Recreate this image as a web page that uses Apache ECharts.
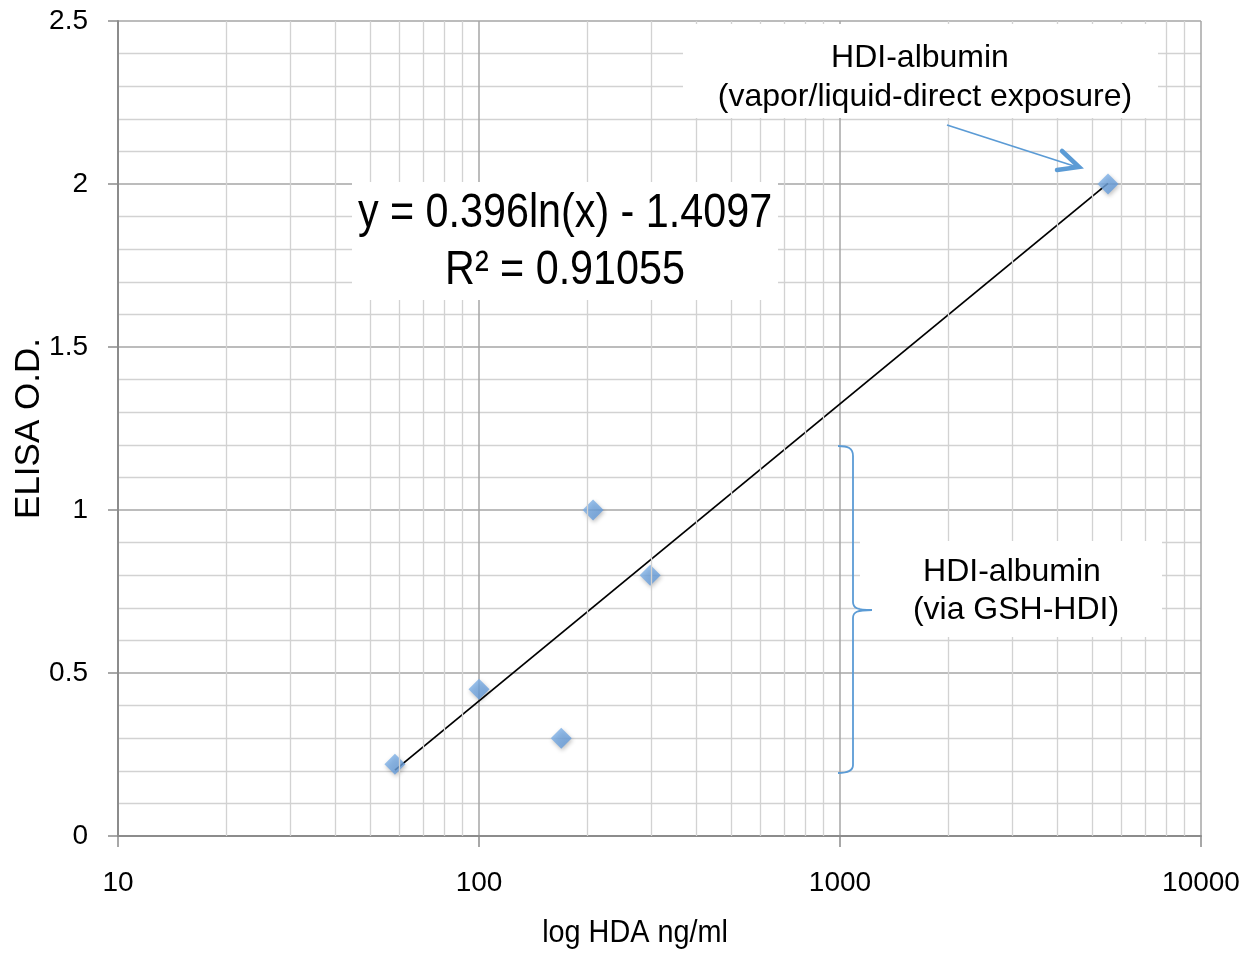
<!DOCTYPE html>
<html>
<head>
<meta charset="utf-8">
<script src="https://cdn.jsdelivr.net/npm/echarts@6/dist/echarts.min.js"></script>
<style>
html,body{margin:0;padding:0;background:#fff;}
#chart{width:1247px;height:954px;}
</style>
</head>
<body>
<div id="chart"></div>
<script>
// ---- data ----
var hdaConc = [58.5, 100, 169, 207, 298, 5525];      // x: HDA ng/ml
var elisaOD = [0.22, 0.45, 0.30, 1.00, 0.80, 2.00];   // y: ELISA O.D.
var trendX = [58.5, 5525];                           // trendline ends
var trendY = [0.202, 2.002];
var xTickLabels = ['10', '100', '1000', '10000'];
var yTickLabels = ['0', '0.5', '1', '1.5', '2', '2.5'];
var xTitle = 'log HDA ng/ml';
var yTitle = 'ELISA O.D.';
var eqLine1 = 'y = 0.396ln(x) - 1.4097';
var eqLine2 = 'R² = 0.91055';
var note1 = ['HDI-albumin', '(vapor/liquid-direct exposure)'];
var note2 = ['HDI-albumin', '(via GSH-HDI)'];

var FONT = '"Liberation Sans", Arial, sans-serif';

var points = hdaConc.map(function (x, i) { return [x, elisaOD[i]]; });
var trend = trendX.map(function (x, i) { return [x, trendY[i]]; });

// minor vertical grid (2..9 within each decade)
var minorX = [];
[10, 100, 1000].forEach(function (d) {
  for (var k = 2; k <= 9; k++) minorX.push({ xAxis: d * k });
});

var chart = echarts.init(document.getElementById('chart'), null, { renderer: 'canvas' });

var BLUE = '#5b9bd5';
function bez(x1, y1, cx1, cy1, cx2, cy2, x2, y2) {
  return { type: 'bezierCurve', z: 102,
    shape: { x1: x1, y1: y1, cpx1: cx1, cpy1: cy1, cpx2: cx2, cpy2: cy2, x2: x2, y2: y2 },
    style: { stroke: BLUE, lineWidth: 1.8, fill: null } };
}
function seg(x1, y1, x2, y2) {
  return { type: 'line', z: 102, shape: { x1: x1, y1: y1, x2: x2, y2: y2 },
    style: { stroke: BLUE, lineWidth: 1.8 } };
}

var option = {
  backgroundColor: '#ffffff',
  animation: false,
  grid: { left: 118, right: 46, top: 21, bottom: 118, containLabel: false, outerBoundsMode: 'none' },
  xAxis: {
    type: 'log', logBase: 10, min: 10, max: 10000,
    axisLine: { show: true, onZero: false, lineStyle: { color: '#8c8c8c', width: 2 } },
    axisTick: { show: true, inside: false, length: 11, lineStyle: { color: '#8c8c8c', width: 1.5 } },
    axisLabel: {
      margin: 33, fontFamily: FONT, fontSize: 28, color: '#000',
      formatter: function (v) {
        var i = Math.round(Math.log10(v)) - 1;
        return xTickLabels[i] !== undefined ? xTickLabels[i] : '';
      }
    },
    splitLine: { show: true, lineStyle: { color: '#a6a6a6', width: 1.5 } }
  },
  yAxis: {
    type: 'value', min: 0, max: 2.5, interval: 0.5,
    name: yTitle, nameLocation: 'middle', nameGap: 71, nameRotate: 90, nameMoveOverlap: false,
    nameTextStyle: { fontFamily: FONT, fontSize: 35, color: '#000' },
    axisLine: { show: true, lineStyle: { color: '#8c8c8c', width: 2 } },
    axisTick: { show: true, inside: false, length: 10, lineStyle: { color: '#8c8c8c', width: 1.5 } },
    axisLabel: {
      margin: 30, fontFamily: FONT, fontSize: 28, color: '#000',
      formatter: function (v) {
        var i = Math.round(v / 0.5);
        return yTickLabels[i] !== undefined ? yTickLabels[i] : '';
      }
    },
    splitLine: { show: true, lineStyle: { color: '#a6a6a6', width: 1.5 } },
    minorTick: { show: false, splitNumber: 5 },
    minorSplitLine: { show: true, lineStyle: { color: '#d2d2d2', width: 1.3 } }
  },
  series: [
    {
      name: 'minorgrid', type: 'line', data: [], z: 1, silent: true,
      markLine: {
        silent: true, symbol: ['none', 'none'], animation: false,
        label: { show: false },
        lineStyle: { color: '#d2d2d2', width: 1.3, type: 'solid' },
        emphasis: { disabled: true },
        data: minorX
      }
    },
    {
      name: 'trend', type: 'line', data: trend, z: 3,
      showSymbol: false, symbol: 'none',
      lineStyle: { color: '#000', width: 1.8 }
    },
    {
      name: 'points', type: 'scatter', data: points, z: 4,
      symbol: 'diamond', symbolSize: 21,
      itemStyle: {
        color: new echarts.graphic.LinearGradient(0, 0, 1, 1, [
          { offset: 0, color: '#8abaec' },
          { offset: 1, color: '#5a93d6' }
        ]),
        shadowBlur: 4, shadowColor: 'rgba(0,0,0,0.30)', shadowOffsetX: 1, shadowOffsetY: 2
      }
    }
  ],
  graphic: [
    // x axis title
    { type: 'text', z: 101, x: 635, y: 933, scaleX: 0.9,
      style: { text: xTitle, fontFamily: FONT, fontSize: 32, fill: '#000', align: 'center', verticalAlign: 'middle' } },
    // equation box
    { type: 'rect', z: 100, shape: { x: 352, y: 182, width: 426, height: 118 }, style: { fill: '#fff' } },
    { type: 'text', z: 101, x: 565, y: 214, scaleX: 0.86,
      style: { text: eqLine1, fontFamily: FONT, fontSize: 48, fill: '#000', align: 'center', verticalAlign: 'middle' } },
    { type: 'text', z: 101, x: 565, y: 271, scaleX: 0.86,
      style: { text: eqLine2, fontFamily: FONT, fontSize: 48, fill: '#000', align: 'center', verticalAlign: 'middle' } },
    // note 1 box
    { type: 'rect', z: 100, shape: { x: 683, y: 24, width: 475, height: 94 }, style: { fill: '#fff' } },
    { type: 'text', z: 101, x: 920, y: 58,
      style: { text: note1[0], fontFamily: FONT, fontSize: 32, fill: '#000', align: 'center', verticalAlign: 'middle' } },
    { type: 'text', z: 101, x: 925, y: 97,
      style: { text: note1[1], fontFamily: FONT, fontSize: 32, fill: '#000', align: 'center', verticalAlign: 'middle' } },
    // arrow
    seg(947, 125, 1077, 167),
    { type: 'polyline', z: 102, shape: { points: [[1062, 151], [1079, 167], [1057, 170]] },
      style: { stroke: BLUE, lineWidth: 4.5, fill: null, lineCap: 'round', lineJoin: 'miter' } },
    // note 2 box
    { type: 'rect', z: 100, shape: { x: 860, y: 541, width: 302, height: 96 }, style: { fill: '#fff' } },
    { type: 'text', z: 101, x: 1012, y: 572,
      style: { text: note2[0], fontFamily: FONT, fontSize: 32, fill: '#000', align: 'center', verticalAlign: 'middle' } },
    { type: 'text', z: 101, x: 1016, y: 610,
      style: { text: note2[1], fontFamily: FONT, fontSize: 32, fill: '#000', align: 'center', verticalAlign: 'middle' } },
    // brace
    bez(838, 446, 848, 446, 853, 448, 853, 456),
    seg(853, 456, 853, 602),
    bez(853, 602, 853, 608, 857, 610, 872, 610),
    bez(872, 610, 857, 610, 853, 612, 853, 618),
    seg(853, 618, 853, 765),
    bez(853, 765, 853, 771, 848, 773, 838, 773)
  ]
};

chart.setOption(option);
</script>
</body>
</html>
